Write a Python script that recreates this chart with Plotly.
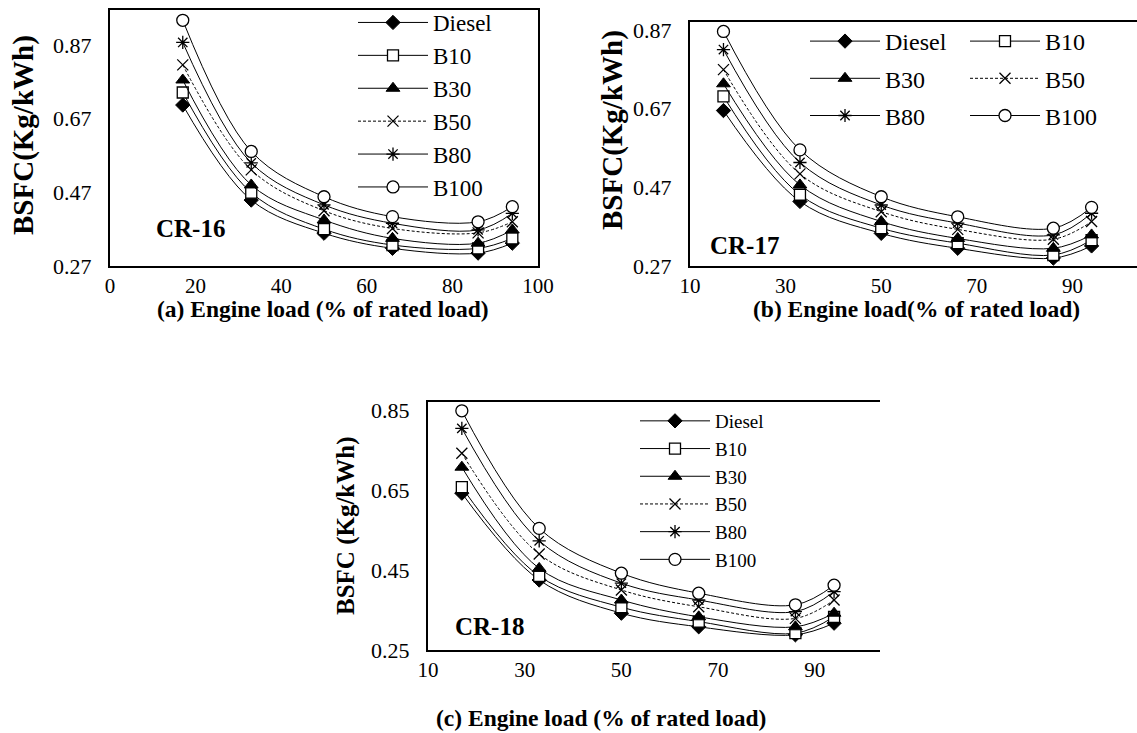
import plotly.graph_objects as go

W, H = 1137, 733
SERIF = "Liberation Serif"

# Engine load (% of rated load)
load = [17, 33, 50, 66, 86, 94]
fuels = ["Diesel", "B10", "B30", "B50", "B80", "B100"]

# BSFC (kg/kWh) at compression ratio 16
cr16_diesel = [0.707, 0.449, 0.359, 0.318, 0.305, 0.332]
cr16_b10 = [0.741, 0.469, 0.370, 0.327, 0.318, 0.345]
cr16_b30 = [0.775, 0.490, 0.395, 0.345, 0.332, 0.368]
cr16_b50 = [0.816, 0.531, 0.420, 0.372, 0.360, 0.390]
cr16_b80 = [0.877, 0.550, 0.436, 0.386, 0.368, 0.413]
cr16_b100 = [0.937, 0.581, 0.458, 0.404, 0.390, 0.431]

# BSFC (kg/kWh) at compression ratio 17
cr17_diesel = [0.665, 0.434, 0.353, 0.315, 0.290, 0.321]
cr17_b10 = [0.701, 0.451, 0.366, 0.328, 0.298, 0.336]
cr17_b30 = [0.733, 0.476, 0.383, 0.340, 0.315, 0.349]
cr17_b50 = [0.769, 0.504, 0.408, 0.363, 0.338, 0.383]
cr17_b80 = [0.820, 0.533, 0.425, 0.379, 0.349, 0.404]
cr17_b100 = [0.866, 0.565, 0.446, 0.395, 0.366, 0.419]

# BSFC (kg/kWh) at compression ratio 18
cr18_diesel = [0.642, 0.425, 0.342, 0.308, 0.288, 0.317]
cr18_b10 = [0.657, 0.435, 0.357, 0.321, 0.292, 0.333]
cr18_b30 = [0.707, 0.454, 0.375, 0.333, 0.308, 0.342]
cr18_b50 = [0.742, 0.490, 0.400, 0.358, 0.329, 0.375]
cr18_b80 = [0.804, 0.523, 0.417, 0.375, 0.346, 0.396]
cr18_b100 = [0.848, 0.554, 0.442, 0.392, 0.363, 0.412]

# panel 17 uses a two-column key: left column legend2, right column legend4
panels = [
    ("cr16", "x", "y", ["legend"] * 6,
     [cr16_diesel, cr16_b10, cr16_b30, cr16_b50, cr16_b80, cr16_b100]),
    ("cr17", "x2", "y2", ["legend2", "legend4", "legend2", "legend4", "legend2", "legend4"],
     [cr17_diesel, cr17_b10, cr17_b30, cr17_b50, cr17_b80, cr17_b100]),
    ("cr18", "x3", "y3", ["legend3"] * 6,
     [cr18_diesel, cr18_b10, cr18_b30, cr18_b50, cr18_b80, cr18_b100]),
]

styles = {
    "Diesel": dict(symbol="diamond", size=11, color="black", line=dict(color="black", width=1)),
    "B10": dict(symbol="square", size=11, color="white", line=dict(color="black", width=1.3)),
    "B30": dict(symbol="triangle-up", size=12, color="black", line=dict(color="black", width=1)),
    "B50": dict(symbol="x-thin-open", size=11, color="black", line=dict(color="black", width=1.3)),
    "B80": dict(symbol="asterisk-open", size=11, color="black", line=dict(color="black", width=1.3)),
    "B100": dict(symbol="circle", size=12, color="white", line=dict(color="black", width=1.3)),
}
dashes = {"B50": "3px,2px"}


def px_x(p):
    return p / W


def px_y(p):
    return 1 - p / H


fig = go.Figure()
for tag, xa, ya, lgs, series in panels:
    for name, lg, vals in zip(fuels, lgs, series):
        fig.add_trace(go.Scatter(
            x=load, y=vals, name=name, xaxis=xa, yaxis=ya, legend=lg,
            legendgroup=f"{tag}-{name}",
            mode="lines+markers",
            line=dict(color="black", width=1, shape="spline", smoothing=1,
                      dash=dashes.get(name, "solid")),
            marker=styles[name],
        ))

xtickfont = dict(family=SERIF, size=21, color="black")
ytickfont = dict(family=SERIF, size=22, color="black")
axis_common = dict(showline=True, linecolor="black", linewidth=2, ticks="",
                   showgrid=False, zeroline=False)


def key(x0, top, size, gap=0):
    return dict(x=px_x(x0), y=px_y(top), xanchor="left", yanchor="top",
                font=dict(family=SERIF, size=size, color="black"), itemwidth=70,
                bgcolor="rgba(0,0,0,0)", borderwidth=0, tracegroupgap=gap)


fig.update_layout(
    width=W, height=H, margin=dict(l=0, r=0, t=0, b=0, autoexpand=False),
    paper_bgcolor="white", plot_bgcolor="white",
    font=dict(family=SERIF, color="black"),
    showlegend=True,
    xaxis=dict(domain=[px_x(110), px_x(538)], range=[0, 100],
               tickvals=[0, 20, 40, 60, 80, 100], mirror=True, anchor="y",
               tickfont=xtickfont, **axis_common),
    yaxis=dict(domain=[px_y(266), px_y(10)], range=[0.27, 0.965],
               tickvals=[0.27, 0.47, 0.67, 0.87], ticktext=["0.27", "0.47", "0.67", "0.87"],
               mirror=True, anchor="x", ticklabelstandoff=12, tickfont=ytickfont, **axis_common),
    xaxis2=dict(domain=[px_x(690), 1.0], range=[10, 103.5],
                tickvals=[10, 30, 50, 70, 90], mirror=True, anchor="y2",
                tickfont=xtickfont, **axis_common),
    yaxis2=dict(domain=[px_y(266), px_y(22)], range=[0.27, 0.89],
                tickvals=[0.27, 0.47, 0.67, 0.87], ticktext=["0.27", "0.47", "0.67", "0.87"],
                anchor="x2", ticklabelstandoff=12, tickfont=ytickfont, **axis_common),
    xaxis3=dict(domain=[px_x(428), px_x(880)], range=[10, 103.5],
                tickvals=[10, 30, 50, 70, 90], mirror=True, anchor="y3",
                tickfont=xtickfont, **axis_common),
    yaxis3=dict(domain=[px_y(650), px_y(402)], range=[0.25, 0.87],
                tickvals=[0.25, 0.45, 0.65, 0.85], ticktext=["0.25", "0.45", "0.65", "0.85"],
                anchor="x3", ticklabelstandoff=12, tickfont=ytickfont, **axis_common),
    legend=key(353, 1, 23),
    legend2=key(805, 19, 24, 3),
    legend4=key(965, 19, 24, 3),
    legend3=key(635, 402, 19),
)

annotations = [
    # compression ratio tags
    dict(text="<b>CR-16</b>", x=px_x(154), y=px_y(229), xanchor="left", yanchor="middle",
         font=dict(family=SERIF, size=25, color="black")),
    dict(text="<b>CR-17</b>", x=px_x(708), y=px_y(245), xanchor="left", yanchor="middle",
         font=dict(family=SERIF, size=25, color="black")),
    dict(text="<b>CR-18</b>", x=px_x(453), y=px_y(626), xanchor="left", yanchor="middle",
         font=dict(family=SERIF, size=25, color="black")),
    # y-axis titles
    dict(text="<b>BSFC(Kg/kWh)</b>", x=px_x(23), y=px_y(135), textangle=-90,
         xanchor="center", yanchor="middle", font=dict(family=SERIF, size=29, color="black")),
    dict(text="<b>BSFC(Kg/kWh)</b>", x=px_x(612), y=px_y(130), textangle=-90,
         xanchor="center", yanchor="middle", font=dict(family=SERIF, size=29, color="black")),
    dict(text="<b>BSFC (Kg/kWh)</b>", x=px_x(346), y=px_y(526), textangle=-90,
         xanchor="center", yanchor="middle", font=dict(family=SERIF, size=25, color="black")),
    # x-axis titles
    dict(text="<b>(a) Engine load (% of rated load)</b>", x=px_x(323), y=px_y(309),
         xanchor="center", yanchor="middle", font=dict(family=SERIF, size=23.5, color="black")),
    dict(text="<b>(b) Engine load(% of rated load)</b>", x=px_x(916), y=px_y(309),
         xanchor="center", yanchor="middle", font=dict(family=SERIF, size=23.5, color="black")),
    dict(text="<b>(c) Engine load (% of rated load)</b>", x=px_x(601), y=px_y(718),
         xanchor="center", yanchor="middle", font=dict(family=SERIF, size=23.5, color="black")),
]
for a in annotations:
    a.update(xref="paper", yref="paper", showarrow=False)
fig.update_layout(annotations=annotations)

fig.write_html("out.html")
